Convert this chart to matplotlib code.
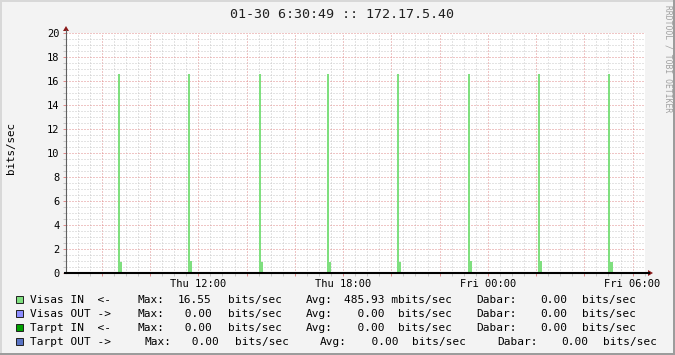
import matplotlib
matplotlib.use('Agg')
import matplotlib.pyplot as plt
import matplotlib.dates as mdates
from matplotlib.patches import Rectangle, Polygon
from matplotlib.lines import Line2D
from matplotlib.transforms import Affine2D
from datetime import datetime, timedelta
import pandas as pd

# ---------------- data ----------------
title = "01-30 6:30:49 :: 172.17.5.40"
start_time = "2015-01-29 06:30:49"
end_time = "2015-01-30 06:30:49"
step_minutes = 5

spike_times = ["2015-01-29 08:40", "2015-01-29 11:35", "2015-01-29 14:30",
               "2015-01-29 17:20", "2015-01-29 20:15", "2015-01-29 23:10",
               "2015-01-30 02:05", "2015-01-30 05:00"]
spike_peak = [16.55, 16.55, 16.55, 16.55, 16.55, 16.55, 16.55, 16.55]
spike_tail = [0.95, 1.00, 0.95, 0.95, 0.95, 1.00, 1.00, 0.95]

y_ticks = [0, 2, 4, 6, 8, 10, 12, 14, 16, 18, 20]
x_label_times = ["2015-01-29 12:00", "2015-01-29 18:00",
                 "2015-01-30 00:00", "2015-01-30 06:00"]
x_tick_labels = ["Thu 12:00", "Thu 18:00", "Fri 00:00", "Fri 06:00"]
y_label = "bits/sec"

series_names = ["Visas IN  <-", "Visas OUT ->", "Tarpt IN  <-", "Tarpt OUT ->"]
series_colors = ["#7FDF7F", "#8C8CFF", "#00A000", "#5A74C4"]
max_vals = [16.55, 0.00, 0.00, 0.00]
avg_vals = [485.93, 0.00, 0.00, 0.00]
avg_prefix = ["m", " ", " ", " "]
cur_vals = [0.00, 0.00, 0.00, 0.00]

# ---------------- figure ----------------
W, H = 675, 355
FONT = "DejaVu Sans Mono"
plt.rcParams['font.family'] = [FONT]

fig = plt.figure(figsize=(W / 100, H / 100), dpi=100)
fig.patch.set_facecolor('#F3F3F3')
pix = Affine2D().scale(1 / W, -1 / H).translate(0, 1) + fig.transFigure

# frame
fig.add_artist(Rectangle((0, 0), W, 2, transform=pix, color='#D8D8D8', lw=0))
fig.add_artist(Rectangle((0, 0), 2, H, transform=pix, color='#D8D8D8', lw=0))
fig.add_artist(Rectangle((0, H - 2), W, 2, transform=pix, color='#9C9C9C', lw=0))
fig.add_artist(Rectangle((W - 2, 0), 2, H, transform=pix, color='#9C9C9C', lw=0))

PL, PR, PT, PB = 66, 645, 33, 273
ax = fig.add_axes([PL / W, 1 - PB / H, (PR - PL) / W, (PB - PT) / H])
ax.set_facecolor('white')
for s in ax.spines.values():
    s.set_visible(False)

t0 = pd.Timestamp(start_time)
t1 = pd.Timestamp(end_time)
ax.set_xlim(mdates.date2num(t0), mdates.date2num(t1))
ax.set_ylim(0, 20)

# bars
step = step_minutes / 1440.0
tp = [mdates.date2num(pd.Timestamp(t)) for t in spike_times]
ax.bar(tp, spike_peak, width=step, align='edge', color=series_colors[0],
       lw=0, zorder=3)
ax.bar([t + step for t in tp], spike_tail, width=step, align='edge',
       color=series_colors[0], lw=0, zorder=3)

# grid / ticks
major_x = pd.date_range("2015-01-29 08:00", "2015-01-30 06:00", freq="2h")
minor_x = pd.date_range("2015-01-29 07:00", "2015-01-30 06:30", freq="30min")
lab_map = {pd.Timestamp(t): l for t, l in zip(x_label_times, x_tick_labels)}
ax.set_xticks([mdates.date2num(t) for t in major_x])
ax.set_xticklabels([lab_map.get(t, "") for t in major_x])
ax.set_xticks([mdates.date2num(t) for t in minor_x], minor=True)
ax.set_yticks(y_ticks)
ax.set_yticklabels([str(v) for v in y_ticks])
ax.set_yticks([v * 0.5 for v in range(0, 41)], minor=True)

red = '#E08C8C'
gray = '#C8C8C8'
ax.grid(which='minor', color=gray, ls=(0, (1, 2)), lw=0.72, zorder=1)
ax.grid(which='major', color=red, ls=(0, (1, 2)), lw=0.72, zorder=1)
ax.set_axisbelow(True)
ax.tick_params(which='major', length=2.5, width=0.72, color=red,
               labelsize=7.5, pad=2.2, direction='out')
ax.tick_params(which='minor', length=2.5, width=0.72, color=gray,
               direction='out')
ax.tick_params(axis='x', pad=1.8)
for lbl in ax.get_xticklabels() + ax.get_yticklabels():
    lbl.set_family(FONT)

# axes lines and arrows
arrow_c = '#8B1A1A'
fig.add_artist(Line2D([PL, PL], [PB, 30], transform=pix, color='#606060', lw=0.8))
fig.add_artist(Line2D([PL - 1, 649], [PB, PB], transform=pix, color='black', lw=1.5))
fig.add_artist(Polygon([(PL - 3, 31), (PL + 3, 31), (PL, 26)], closed=True,
                       transform=pix, color=arrow_c, lw=0))
fig.add_artist(Polygon([(648, PB - 3), (648, PB + 3), (653, PB)], closed=True,
                       transform=pix, color=arrow_c, lw=0))

# texts
fig.text(341.6 / W, 1 - 18.5 / H, title, ha='center', va='baseline',
         fontsize=9.6, family=FONT, color='#202020')
fig.text(11 / W, 1 - 148 / H, y_label, rotation=90, ha='center', va='center',
         fontsize=7.8, family=FONT, color='black')
fig.text(668 / W, 1 - 5 / H, "RRDTOOL / TOBI OETIKER", rotation=270,
         ha='center', va='top', fontsize=5.8, family=FONT, color='#A0A0A0')

# legend
baselines = [303.3, 317.3, 331.3, 345.3]
shift = [(0, 0, 0), (0, 0, 0), (0, 0, 0), (7.3, 14.0, 21.3)]
fs = 8
for i in range(4):
    b = baselines[i]
    s1, s2, s3 = shift[i]
    fig.add_artist(Rectangle((16, b - 7), 7, 7, transform=pix,
                             facecolor=series_colors[i], edgecolor='#202020', lw=0.7))
    segs = [
        (30.5, series_names[i]),
        (137.3 + s1, "Max:"),
        (178.0 + s1, "%5.2f" % max_vals[i]),
        (228.0 + s1, "bits/sec"),
        (305.8 + s2, "Avg:"),
        (344.3 + s2, "%6.2f %sbits/sec" % (avg_vals[i], avg_prefix[i])),
        (476.4 + s3, "Dabar:"),
        (540.0 + s3, "%4.2f" % cur_vals[i]),
        (582.0 + s3, "bits/sec"),
    ]
    for x, txt in segs:
        fig.text(x / W, 1 - b / H, txt, ha='left', va='baseline',
                 fontsize=fs, family=FONT, color='black')

fig.savefig('out.png', dpi=100, facecolor=fig.get_facecolor())
